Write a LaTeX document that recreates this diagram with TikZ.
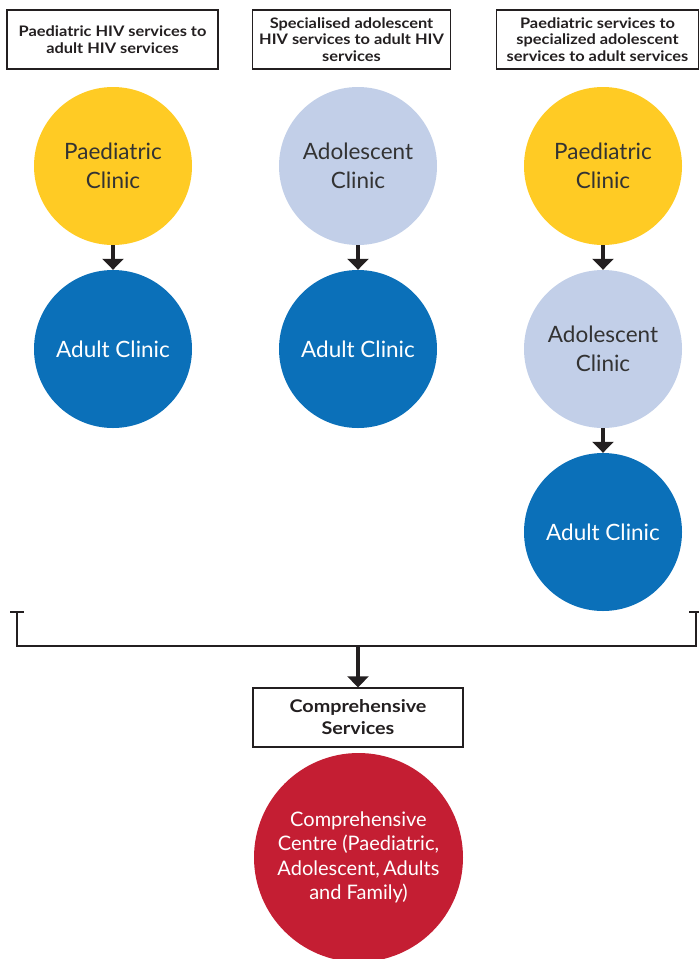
\documentclass[tikz,border=0pt]{standalone}
\usepackage{fontspec}
\setmainfont{Lato}
\newfontfamily\hdfont[FakeStretch=1.13]{Lato}
\usetikzlibrary{arrows.meta}
\definecolor{cyel}{HTML}{FFCB24}
\definecolor{clb}{HTML}{C2CFE8}
\definecolor{cblue}{HTML}{0B70B9}
\definecolor{cred}{HTML}{C41E33}
\definecolor{ctxt}{HTML}{333333}
\definecolor{cline}{HTML}{231F20}
\begin{document}
\begin{tikzpicture}[x=1pt,y=-1pt,
  hbox/.style={draw=cline,line width=1.3pt,minimum height=59pt,align=center,font=\hdfont\fontsize{14.5}{16.5}\selectfont\bfseries,text=cline,inner sep=2pt},
  circ/.style={circle,minimum size=158pt,inner sep=0pt,align=center,font=\fontsize{22.5}{29}\selectfont},
  yel/.style={circ,fill=cyel,text=ctxt},
  lb/.style={circ,fill=clb,text=ctxt},
  bl/.style={circ,fill=cblue,text=white},
  arr/.style={line width=3.4pt,draw=cline,-{Triangle[width=21pt,length=11pt]}},
  brk/.style={line width=2.9pt,draw=cline}]
\useasboundingbox (0,0) rectangle (699,959);
% headers
\node[hbox,minimum width=211pt] (h1) at (112.5,39.5) {Paediatric HIV services to\\adult HIV services};
\node[hbox,minimum width=198pt] (h2) at (351.5,39.5) {Specialised adolescent\\HIV services to adult HIV\\services};
\node[hbox,minimum width=202pt] (h3) at (597.5,39.5) {Paediatric services to\\specialized adolescent\\services to adult services};
% column 1
\node[yel] (p1) at (113,166) {Paediatric\\Clinic};
\node[bl] (a1) at (113,349) {Adult Clinic};
% column 2
\node[lb] (d2) at (358,166) {Adolescent\\Clinic};
\node[bl] (a2) at (358,349) {Adult Clinic};
% column 3
\node[yel] (p3) at (603,166) {Paediatric\\Clinic};
\node[lb] (d3) at (603,349) {Adolescent\\Clinic};
\node[bl] (a3) at (603,532) {Adult Clinic};
\draw[arr] (p1) -- (a1);
\draw[arr] (d2) -- (a2);
\draw[arr] (p3) -- (d3);
\draw[arr] (d3) -- (a3);
% bracket
\coordinate (bL) at (17,612);
\coordinate (bR) at (696,612);
\coordinate (bJ) at (358,646);
\draw[brk] (bL) |- (bJ) -| (bR);
\draw[brk] ([xshift=-7pt]bL) -- ([xshift=7pt]bL);
\draw[brk] ([xshift=-7pt]bR) -- ([xshift=7pt]bR);
% bottom
\node[hbox,minimum width=210pt,font=\hdfont\fontsize{17.5}{22}\selectfont\bfseries] (cs) at (358,717.5) {Comprehensive\\Services};
\draw[arr] (bJ) -- (cs.north);
\node[circ,fill=cred,text=white,minimum size=209pt,font=\fontsize{20}{24.5}\selectfont] (cc) at (358.5,857.5) {Comprehensive\\Centre (Paediatric,\\Adolescent,\,Adults\\and Family)};
\end{tikzpicture}
\end{document}
